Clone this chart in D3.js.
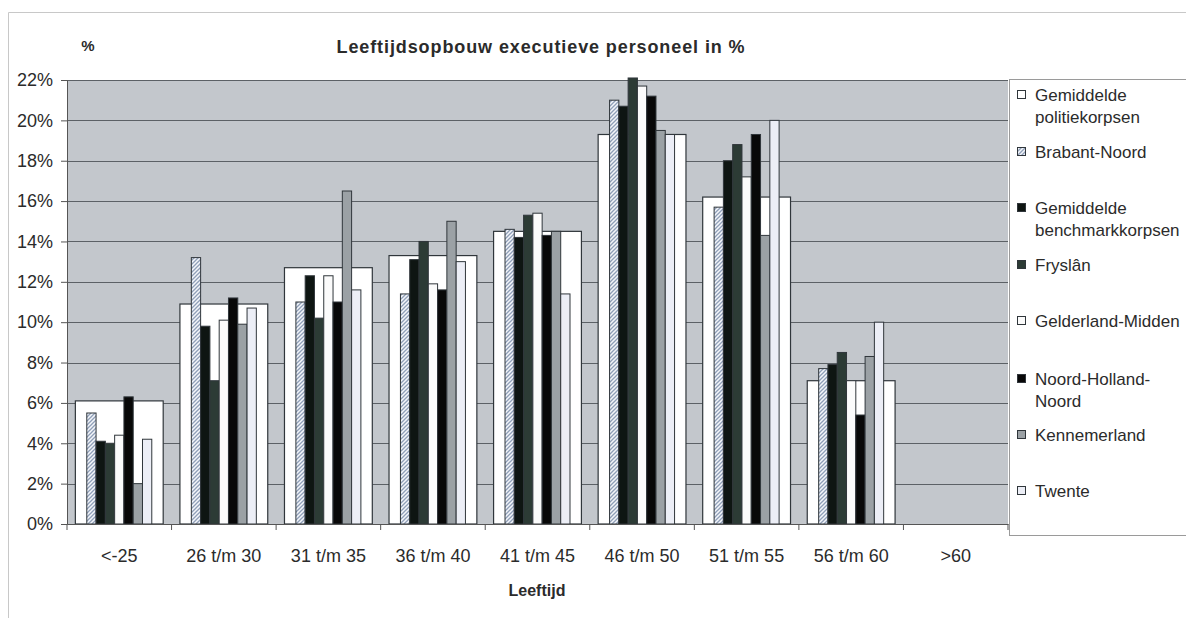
<!DOCTYPE html>
<html>
<head>
<meta charset="utf-8">
<script src="https://cdn.jsdelivr.net/npm/d3@7"></script>
<style>
	body { margin: 0; background: #fff; }
	text { font-family: "Liberation Sans", Arial, sans-serif; fill: #2b2b2b; }
</style>
</head>
<body>
<script type="text/javascript">

	// categories (x axis) and series
	var categories = ["<-25", "26 t/m 30", "31 t/m 35", "36 t/m 40", "41 t/m 45", "46 t/m 50", "51 t/m 55", "56 t/m 60", ">60"];
	var seriesNames = ["Gemiddelde politiekorpsen", "Brabant-Noord", "Gemiddelde benchmarkkorpsen", "Fryslân",
		"Gelderland-Midden", "Noord-Holland-Noord", "Kennemerland", "Twente"];
	var legendLines = [["Gemiddelde", "politiekorpsen"], ["Brabant-Noord"], ["Gemiddelde", "benchmarkkorpsen"], ["Fryslân"],
		["Gelderland-Midden"], ["Noord-Holland-", "Noord"], ["Kennemerland"], ["Twente"]];
	var yTicks = [0, 2, 4, 6, 8, 10, 12, 14, 16, 18, 20, 22];

	// values in %
	var gemPolitie   = [6.1, 10.9, 12.7, 13.3, 14.5, 19.3, 16.2, 7.1, 0];
	var brabant      = [5.5, 13.2, 11.0, 11.4, 14.6, 21.0, 15.7, 7.7, 0];
	var gemBench     = [4.1,  9.8, 12.3, 13.1, 14.2, 20.7, 18.0, 7.9, 0];
	var fryslan      = [4.0,  7.1, 10.2, 14.0, 15.3, 22.1, 18.8, 8.5, 0];
	var gelderland   = [4.4, 10.1, 12.3, 11.9, 15.4, 21.7, 17.2, 7.1, 0];
	var nhn          = [6.3, 11.2, 11.0, 11.6, 14.3, 21.2, 19.3, 5.4, 0];
	var kennemerland = [2.0,  9.9, 16.5, 15.0, 14.5, 19.5, 14.3, 8.3, 0];
	var twente       = [4.2, 10.7, 11.6, 13.0, 11.4, 19.3, 20.0, 10.0, 0];

	var allSeries = [gemPolitie, brabant, gemBench, fryslan, gelderland, nhn, kennemerland, twente];
	var fills = ["#ffffff", "url(#hatch)", "#0e1512", "#2c3b35", "#fbfbfb", "#080808", "#9ba1a5", "#eceef6"];

	var w = 1186,
		h = 618;
	var plotL = 67, plotR = 1008, plotT = 80, plotB = 524;

	var svg = d3.select("body")
		.append("svg")
		.attr("width", w)
		.attr("height", h);

	var defs = svg.append("defs");
	var pat = defs.append("pattern")
		.attr("id", "hatch")
		.attr("patternUnits", "userSpaceOnUse")
		.attr("width", 4)
		.attr("height", 4);
	pat.append("rect").attr("width", 4).attr("height", 4).attr("fill", "#f4f6fa");
	pat.append("path")
		.attr("d", "M-1,1 l2,-2 M0,4 l4,-4 M3,5 l2,-2")
		.attr("stroke", "#8f9fb8")
		.attr("stroke-width", 1.3);

	// outer frame
	svg.append("path")
		.attr("d", "M8.5," + h + " V12.5 H" + w)
		.attr("fill", "none")
		.attr("stroke", "#c8c8c8");

	var x = d3.scaleBand()
		.domain(categories)
		.range([plotL, plotR]);

	var y = d3.scaleLinear()
		.domain([0, 22])
		.range([plotB, plotT]);

	var inner = d3.scaleBand()
		.domain(d3.range(1, 8))
		.range([(x.bandwidth() - 65) / 2, (x.bandwidth() + 65) / 2]);

	var wideW = x.bandwidth() * 0.84;

	// plot background
	svg.append("rect")
		.attr("x", plotL)
		.attr("y", plotT)
		.attr("width", plotR - plotL)
		.attr("height", plotB - plotT)
		.attr("fill", "#c3c7cc");

	svg.selectAll(".grid")
		.data(yTicks.slice(1))
		.enter().append("line")
		.attr("class", "grid")
		.attr("x1", plotL)
		.attr("x2", plotR)
		.attr("y1", function(d) { return Math.round(y(d)) + .5; })
		.attr("y2", function(d) { return Math.round(y(d)) + .5; })
		.attr("stroke", "#5c6166");

	// wide bars (Gemiddelde politiekorpsen)
	svg.selectAll(".wide")
		.data(gemPolitie)
		.enter().append("rect")
		.attr("class", "wide")
		.attr("x", function(d, i) { return x(categories[i]) + (x.bandwidth() - wideW) / 2; })
		.attr("y", function(d) { return y(d); })
		.attr("width", wideW)
		.attr("height", function(d) { return y(0) - y(d); })
		.attr("fill", fills[0])
		.attr("stroke", "#30363b")
		.attr("stroke-width", 1.2);

	// narrow bars
	for (var s = 1; s < allSeries.length; s++) {
		svg.append("g").selectAll("rect")
			.data(allSeries[s])
			.enter().append("rect")
			.attr("x", function(d, i) { return x(categories[i]) + inner(s); })
			.attr("y", function(d) { return y(d); })
			.attr("width", inner.bandwidth())
			.attr("height", function(d) { return y(0) - y(d); })
			.attr("fill", fills[s])
			.attr("stroke", "#30363b")
			.attr("stroke-width", 1);
	}

	// y axis
	var yAxis = d3.axisLeft(y)
		.tickValues(yTicks)
		.tickFormat(function(d) { return d + "%"; })
		.tickSize(6)
		.tickPadding(8);

	var gy = svg.append("g")
		.attr("transform", "translate(" + plotL + ",0)")
		.call(yAxis);
	gy.selectAll("text").attr("font-size", 18).attr("font-family", null);
	gy.selectAll("line, path").attr("stroke", "#555");

	// x axis
	var xAxis = d3.axisBottom(x)
		.tickSize(0)
		.tickPadding(25);

	var gx = svg.append("g")
		.attr("transform", "translate(0," + plotB + ")")
		.call(xAxis);
	gx.selectAll("text").attr("font-size", 18).attr("font-family", null);
	gx.select(".domain").attr("stroke", "#555");

	gx.selectAll(".sep")
		.data(categories.concat(["end"]))
		.enter().append("line")
		.attr("class", "sep")
		.attr("x1", function(d, i) { return plotL + i * x.bandwidth(); })
		.attr("x2", function(d, i) { return plotL + i * x.bandwidth(); })
		.attr("y1", 0)
		.attr("y2", 6)
		.attr("stroke", "#555");

	// titles
	svg.append("text")
		.attr("x", 541)
		.attr("y", 53)
		.attr("text-anchor", "middle")
		.attr("font-size", 18)
		.attr("font-weight", "bold")
		.attr("letter-spacing", 0.9)
		.text("Leeftijdsopbouw executieve personeel in %");

	svg.append("text")
		.attr("x", 88)
		.attr("y", 51)
		.attr("text-anchor", "middle")
		.attr("font-size", 15)
		.attr("font-weight", "bold")
		.text("%");

	svg.append("text")
		.attr("x", 537)
		.attr("y", 596)
		.attr("text-anchor", "middle")
		.attr("font-size", 16)
		.attr("font-weight", "bold")
		.text("Leeftijd");

	// legend
	var legendY = [95, 152, 208, 265, 321, 379, 435, 491];

	svg.append("rect")
		.attr("x", 1009.5)
		.attr("y", 79.5)
		.attr("width", 200)
		.attr("height", 456)
		.attr("fill", "#fff")
		.attr("stroke", "#9a9a9a");

	var leg = svg.selectAll(".leg")
		.data(seriesNames)
		.enter().append("g")
		.attr("class", "leg")
		.attr("transform", function(d, i) { return "translate(1017," + legendY[i] + ")"; });

	leg.append("rect")
		.attr("x", 0.5)
		.attr("y", -4.5)
		.attr("width", 8)
		.attr("height", 8)
		.attr("fill", function(d, i) { return fills[i]; })
		.attr("stroke", "#30363b");

	leg.append("text")
		.attr("x", 18)
		.attr("y", 6)
		.attr("font-size", 17)
		.selectAll("tspan")
		.data(function(d, i) { return legendLines[i]; })
		.enter().append("tspan")
		.attr("x", 18)
		.attr("dy", function(d, j) { return j ? 22 : 0; })
		.text(function(d) { return d; });

</script>
</body>
</html>
